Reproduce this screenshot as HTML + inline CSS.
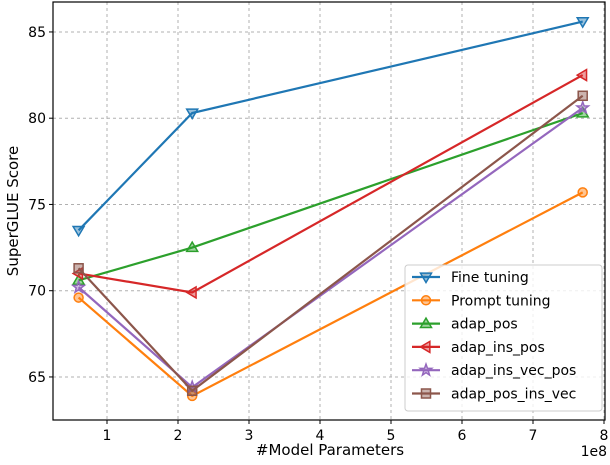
<!DOCTYPE html>
<html><head><meta charset="utf-8"><style>
body{margin:0;background:#fff}
svg text{font-family:"DejaVu Sans","Liberation Sans",sans-serif;fill:#000}
</style></head><body>
<svg id="c" width="610" height="460" xmlns="http://www.w3.org/2000/svg">
<g id="grid"></g>
<g id="lines"></g>
<rect x="53" y="2" width="552" height="418" fill="none" stroke="#000" stroke-width="1.2"/>
<g id="ticks"></g>
<text x="330" y="455" font-size="15" text-anchor="middle">#Model Parameters</text>
<text x="607" y="456" font-size="14" text-anchor="end">1e8</text>
<text transform="translate(18,211) rotate(-90)" font-size="15" text-anchor="middle">SuperGLUE Score</text>
<g id="legend"></g>
</svg>
<script>
const xs=[0.6,2.2,7.7];
const names=["Fine tuning","Prompt tuning","adap_pos","adap_ins_pos","adap_ins_vec_pos","adap_pos_ins_vec"];
const s0=[73.5,80.3,85.6];
const s1=[69.6,63.9,75.7];
const s2=[70.6,72.5,80.3];
const s3=[71.0,69.9,82.5];
const s4=[70.2,64.4,80.6];
const s5=[71.3,64.2,81.3];
const xTicks=[1,2,3,4,5,6,7,8];
const yTicks=[65,70,75,80,85];
const series=[s0,s1,s2,s3,s4,s5];
const colors=["#1f77b4","#ff7f0e","#2ca02c","#d62728","#9467bd","#8c564b"];
const markers=["v","o","^","<","*","s"];
const X=v=>36+71*v, Y=v=>290.7-(v-70)*17.25;
const NS="http://www.w3.org/2000/svg";
function mk(t,a,p){const e=document.createElementNS(NS,t);for(const k in a)e.setAttribute(k,a[k]);p.appendChild(e);return e;}
const G=document.getElementById('grid'),T=document.getElementById('ticks'),L=document.getElementById('lines'),LG=document.getElementById('legend');
xTicks.forEach(v=>{
 const g=mk('line',{x1:X(v),x2:X(v),y1:2,y2:420,stroke:'#b0b0b0','stroke-dasharray':'3,3','stroke-width':1},G);
 
 const t=mk('line',{x1:X(v),x2:X(v),y1:420,y2:424,stroke:'#000'},T);
 
 const l=mk('text',{x:X(v),y:440,'font-size':14,'text-anchor':'middle'},T);l.textContent=v;
 
});
yTicks.forEach(v=>{
 const g=mk('line',{x1:53,x2:605,y1:Y(v),y2:Y(v),stroke:'#b0b0b0','stroke-dasharray':'3,3','stroke-width':1},G);
 
 const t=mk('line',{x1:49,x2:53,y1:Y(v),y2:Y(v),stroke:'#000'},T);
 
 const l=mk('text',{x:46,y:Y(v)+5,'font-size':14,'text-anchor':'end'},T);l.textContent=v;
 
});
function marker(m,x,y,c,p,r){
 r=r||5.5;let e;const a={fill:c,'fill-opacity':0.45,stroke:c,'stroke-width':1.5};
 if(m==='o')e=mk('circle',Object.assign({cx:x,cy:y,r:r-1},a),p);
 else if(m==='s')e=mk('rect',Object.assign({x:x-r+1,y:y-r+1,width:2*r-2,height:2*r-2},a),p);
 else{let pts;
  if(m==='v')pts=[[x-r,y-r*0.7],[x+r,y-r*0.7],[x,y+r]];
  if(m==='^')pts=[[x-r,y+r*0.7],[x+r,y+r*0.7],[x,y-r]];
  if(m==='<')pts=[[x+r*0.7,y-r],[x+r*0.7,y+r],[x-r,y]];
  if(m==='*'){pts=[];for(let i=0;i<10;i++){const rr=i%2?r*0.45:r*1.1,a2=-Math.PI/2+i*Math.PI/5;pts.push([x+rr*Math.cos(a2),y+rr*Math.sin(a2)]);}}
  e=mk('polygon',Object.assign({points:pts.map(p=>p.join(',')).join(' ')},a),p);}
 return e;
}
series.forEach((s,i)=>{
 const pl=mk('polyline',{points:s.map((v,j)=>X(xs[j])+','+Y(v)).join(' '),fill:'none',stroke:colors[i],'stroke-width':2.2},L);
 
 s.forEach((v,j)=>{const m=marker(markers[i],X(xs[j]),Y(v),colors[i],L);
  });
});
const lb=mk('rect',{x:405,y:265,width:197,height:146,rx:3,fill:'#fff','fill-opacity':0.8,stroke:'#ccc'},LG);

names.forEach((n,i)=>{
 const y=277+i*23.3;
 const g=mk('g',{},LG);
 mk('line',{x1:412,x2:440,y1:y,y2:y,stroke:colors[i],'stroke-width':2.2},g);
 marker(markers[i],426,y,colors[i],g);
 const t=mk('text',{x:451,y:y+5,'font-size':14},g);t.textContent=n;
});
</script>
</body></html>
